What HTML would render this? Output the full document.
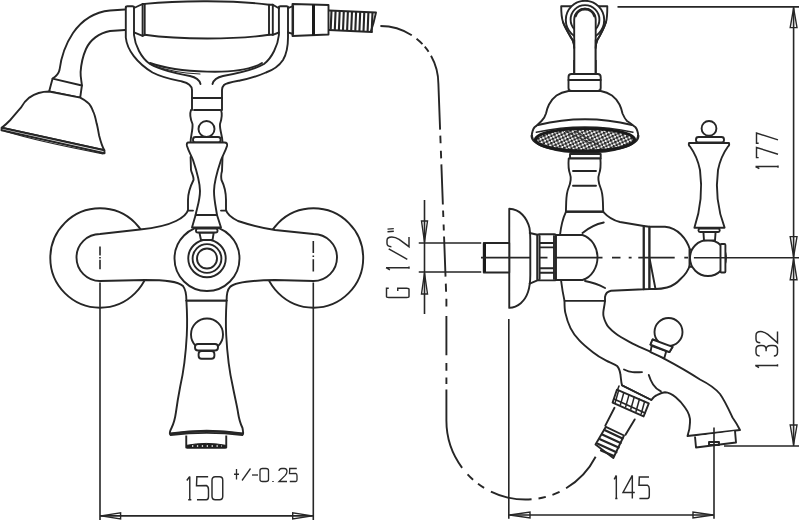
<!DOCTYPE html>
<html><head><meta charset="utf-8"><style>
html,body{margin:0;padding:0;background:#fff;width:800px;height:522px;overflow:hidden}
svg{display:block}
.s{fill:none;stroke:#262626;stroke-width:1.9;stroke-linecap:round;stroke-linejoin:round}
.w{fill:#fff;stroke:#262626;stroke-width:1.9;stroke-linejoin:round}
.f{fill:#fff;stroke:none}
.d{fill:none;stroke:#262626;stroke-width:1.6;stroke-linecap:butt}
.ah{fill:none;stroke:#262626;stroke-width:1.4;stroke-linejoin:miter}
.txt{font-family:"Liberation Sans",sans-serif;fill:#2e2e2e}
</style></head><body>
<svg width="800" height="522" viewBox="0 0 800 522">
<defs>
<pattern id="dots" width="4.6" height="4.6" patternUnits="userSpaceOnUse" patternTransform="rotate(20)">
<rect width="4.6" height="4.6" fill="#f4f4f4"/>
<rect x="0" y="0" width="2.5" height="2.5" fill="#222"/>
<rect x="2.3" y="2.3" width="2.3" height="2.3" fill="#222"/>
</pattern>
</defs>
<g>
<!-- hand shower arm -->
<path class="s" d="M125,9.5 L110,10.5 C95,12 82,20 73,33 C65,45 61,58 59.5,70 C58.5,74 56,76.5 52.6,78.6"/>
<path class="s" d="M125,30 L110,31 C99,33 90,40 86,49 C82,58 81,66 80.6,72 C80.4,77 81.5,81 81.9,85.5"/>
<path class="w" d="M52.6,78.6 L81.9,85.5 L80.2,97.6 L49.1,91.5 Z"/>
<path class="w" d="M49.1,91.5 C43,91.5 36,93 29.3,97.6 C25,101 23,104 20.7,107.9 C17,112 13,117 10.3,120 C7,123.5 4,126 1.7,127.8 L104.3,150.2 C102.5,147 101,143 99.1,135.5 C98,130 97.5,126 96.6,123.4 C95.5,118 94.5,114 93.1,111.4 C91.5,107 90,104.5 87.9,102.8 C85.5,100.5 83,99 80.2,97.6 Z"/>
<path class="w" d="M1.7,127.8 L104.3,150.2 L104.6,153.2 L1.5,130.3 Z"/>
<path class="s" style="stroke-width:1.3" d="M6,131.5 C30,139 70,147.5 103,153.8"/>
<!-- yoke -->
<path class="s" d="M125.8,7 L125.8,37.5 C127,50 137,63 152.5,72.5 C163,78 175,80 182,81.5 C188,83 192,85 192,90 L192,110"/>
<path class="s" d="M134,7 L134,35 C135,45 141,58 150,64 C160,70 175,73 190,76 C197,77.5 199.5,80 200.5,84"/>
<path class="s" d="M125.8,7.5 Q125.8,6.3 127.3,6.3 L132.5,6.3 Q134,6.3 134,7.5"/>
<path class="s" d="M288,7 L288,37.5 C288,48 286,55 283,60 C279,66 273,70 266,72.5 C258,76 248,79 240,80.5 C232,82 226,83 224,85 C222.5,86.5 222,88 222,90 L222,110"/>
<path class="s" d="M278.9,7 L278.9,35 C278,45 272,58 264,64 C254,70 239,73 223,76 C216,77.5 213.5,80 212.5,84"/>
<path class="s" d="M278.9,7.5 Q278.9,6.3 280.4,6.3 L286.5,6.3 Q288,6.3 288,7.5"/>
<!-- grip -->
<path class="s" d="M134,8 L142.6,4 L142.6,35.8 L134,32.3"/>
<path class="s" d="M144.7,3.9 L144.7,34.8"/>
<path class="s" d="M144.7,3.9 C180,0.3 235,0.3 269,4.7"/>
<path class="s" d="M144.7,34.8 C180,39.8 235,39.8 269,34.8"/>
<path class="s" d="M278.9,8.2 L272.8,4.7 L272.8,34.8 L278.9,32.5"/>
<path class="s" d="M269,4.7 L269,34.8 M269,4.7 L272.8,4.7 M269,34.8 L272.8,34.8 M142.6,4 L144.7,3.9 M142.6,35.8 L144.7,34.8"/>
<path class="s" d="M150,63 C175,72 240,77 262,63"/>
<path class="s" style="stroke-width:1.1" d="M152,65 C165,70 180,73 200,74"/>
<!-- hose connector -->
<path class="s" d="M288,8.2 L293.1,6 L293.1,34 L288,32.3"/>
<path class="s" d="M292.5,4 L328.5,5 L328.5,34.5 L292.5,36 Z"/>
<path style="fill:none;stroke:#1a1a1a;stroke-width:3" d="M313.5,4.5 L313.5,35.5"/>
<!-- corrugated hose -->
<path class="s" d="M329,10.5 L376,12.5 M329,30 L372,32 M376,12.5 L373.5,23 L371,31"/>
<path class="s" style="stroke-width:2.1;stroke-linecap:butt" d="M331.5,10.6 L330.7,29.6 M335.6,10.8 L334.8,29.9 M339.7,11.0 L338.9,30.1 M343.8,11.1 L343.0,30.3 M347.9,11.3 L347.1,30.5 M352.0,11.5 L351.2,30.7 M356.1,11.7 L355.3,30.9 M360.2,11.8 L359.4,31.2 M364.3,12.0 L363.5,31.4 M368.4,12.2 L367.6,31.6 M372.5,12.4 L371.7,31.8"/>
<!-- stem upper -->
<path class="s" d="M192,98 L222,98"/>
<path class="s" d="M194,110 L220,110"/>
<path class="s" d="M191,110 C189.5,114 190,118 192.5,124 C193,130 190.6,136 190.6,142"/>
<path class="s" d="M221,110 C222.5,114 222,118 220,124 C219.5,130 222.5,136 222.5,142"/>
<circle class="s" cx="206.5" cy="129" r="8"/>
<rect class="w" x="193" y="137" width="27.6" height="5.5" rx="2.5"/>
</g>
<g>
<!-- escutcheons -->
<circle class="w" cx="100" cy="258" r="49.7"/>
<circle class="w" cx="313.5" cy="258" r="49.7"/>
<!-- arm fill -->
<path class="f" d="M188,150 L188,210 C187,214 184,217 176,221 C166,226 150,228.5 140,229.5 L100,234 A23.5,23.5 0 0 0 100,281 L145,280 C165,280 178,281 183,286 C186,290 186.4,295 186.4,300.6 L226.6,300.6 C226.6,295 227,290 230,287 C234,283 245,280.5 275,280 L313.5,281 A23.5,23.5 0 0 0 313.5,234 L275,230 C262,228 250,225 238,221 C230,217 227,214 226,210 L226,150 Z"/>
<!-- arm outline -->
<path class="s" d="M190.6,157 L191,170 C192,174 194,177 193.5,180 C191,185 188,192 188,200 L188,210 C187,214 184,217 176,221 C166,226 150,228.5 140,229.5 L100,234 A23.5,23.5 0 0 0 100,281 L145,280 C165,280 178,281 183,286 C186,290 186.4,295 186.4,300.6"/>
<path class="s" d="M222.5,157 L222,171 C221,174 221,177 221.5,180 C224,185 226,192 226,200 L226,210 C227,214 230,217 238,221 C250,225 262,228 275,230 L313.5,234 A23.5,23.5 0 0 1 313.5,281 L275,280 C245,280.5 234,283 230,287 C227,290 226.6,295 226.6,300.6"/>
<path class="s" d="M188,210.6 L193,210.6 M221,210.6 L226,210.6"/>
<circle class="w" cx="207" cy="258.5" r="32.5"/>
<circle class="s" cx="207" cy="258.5" r="18.75"/>
<circle class="s" cx="207" cy="258.5" r="14.4"/>
<circle class="s" cx="207" cy="258.5" r="10"/>
<path class="w" d="M199.4,232.5 L213.75,232.5 L212.5,240 L201,240 Z"/>
<rect class="w" x="196" y="228.5" width="21.5" height="4" rx="1.8"/>
<!-- handle -->
<path class="w" d="M188.5,142.5 L224.5,142.5 Q227.8,142.5 227,146 C225.5,151 223,155 221,160 C217,172 214,182 214,191 C214,200 216,208 217,215 L221,227.5 L192,227.5 L195.6,215 C197,208 200,200 200,191 C200,182 197,172 193,160 C191,155 188.5,151 187,146 Q186.2,142.5 188.5,142.5 Z"/>
<path class="s" d="M195.6,215 L217,215"/>
<!-- centre marks & extension lines -->
<path class="d" d="M100,246.5 L100,255.5 M100,256.9 L100,258.4 M100,259.8 L100,269.3 M100,282.5 L100,520"/>
<path class="d" d="M313.3,241 L313.3,253 M313.3,255.5 L313.3,257 M313.3,259.3 L313.3,271.6 M313.3,282.5 L313.3,520"/>
<!-- spout -->
<path class="w" d="M186.4,300.6 C187.3,315 187.3,325 186.8,335 C186,350 184,370 180.25,386.25 C178,398 176.5,408 175.9,412.5 C175,419 173.5,424 171.5,428 C170,431 169.5,433 170,434 Q207,428.5 243,434 C243.5,433 243,431 242.5,428 C240.5,424 239,419 238,412.5 C237.5,408 235,398 232.75,386.25 C229,370 227,350 226.2,335 C225.7,325 225.7,315 226.6,300.6 Z"/>
<path class="s" d="M186.4,300.6 L226.6,300.6"/>
<path class="s" style="stroke-width:1.7" d="M170.5,433.3 Q207,427.8 242.5,433.3 M170.5,435.2 Q207,430.5 242.5,435.2"/>
<path class="w" d="M186.25,435.5 L186.25,447.5 L226.25,447.5 L226.25,435.5"/>
<path style="fill:#1e1e1e;stroke:#1e1e1e;stroke-width:1" d="M186.8,445.3 Q206.25,441.5 225.7,445.3 L225.7,448 L186.8,448 Z"/>
<path style="fill:none;stroke:#fff;stroke-width:1.3;stroke-dasharray:1.3 3.6" d="M192,446 L222,446"/>
<circle class="w" cx="207" cy="334.5" r="16"/>
<rect class="w" x="195" y="344" width="23" height="6.5" rx="3"/>
<rect class="w" x="198.6" y="351" width="15.8" height="7.75" rx="3"/>
<!-- dimension 150 -->
<path class="d" d="M100,515.9 L313.3,515.9"/>
<path class="ah" d="M101,515.9 L120.6,512.9 L120.6,518.9 Z M312.3,515.9 L292.7,512.9 L292.7,518.9 Z"/>
</g>
<g>
<!-- top bracket + arm -->
<path class="w" d="M561.2,6.2 L607.3,6.2 C607.3,13 607,19 606,22 C604,28 601,34 597.2,40.3 C596,43 595.7,45 595.7,48 L574.2,48 C574.2,45 574,43 572.7,40.3 C569,34 565,28 563,22 C562,19 561.2,13 561.2,6.2 Z"/>
<circle class="w" cx="585" cy="20" r="19.2"/>
<circle class="s" cx="585" cy="19.5" r="14.4"/>
<path class="w" d="M574.2,74 L574.2,19.4 A10.75,10.75 0 0 1 595.7,19.4 L595.7,74 Z"/>
<path class="s" style="stroke-width:2.6" d="M575.5,16 A10,10 0 0 1 594.5,16"/>
<path class="w" d="M561.2,35 C566,40 572,44 574.2,48 L574.2,60 L561.2,60 Z" style="stroke:none"/>
<path class="s" d="M563,22 C565,28 569,34 572.7,40.3 C574,43 574.2,45 574.2,48"/>
<path class="w" d="M607.3,35 C603,40 597,44 595.7,48 L595.7,60 L607.3,60 Z" style="stroke:none"/>
<path class="s" d="M606,22 C604,28 601,34 597.2,40.3 C596,43 595.7,45 595.7,48"/>
<path class="s" d="M574.2,40 L574.2,74 M595.7,40 L595.7,74"/>
<rect class="w" x="568.5" y="74" width="32.2" height="17" rx="3"/>
<path class="s" d="M568.5,80 L600.7,80"/>
<path class="w" d="M568.5,91 C563,92 559.5,93.5 556.5,95.5 C553,98 551,101 549,104.5 C547.5,107.5 546.5,111 546,113.5 C545,117 543.5,119 541.5,121 C539,123.5 537,125.5 534.75,127 C533,129 532,132 531.75,136 L638.25,136 C638,132 637,129 635.25,127 C633,125.5 631,123.5 627,121 C625,119 624,117 622.5,113.5 C622,111 621,107.5 619.5,104.5 C617.5,101 615.5,98 612,95.5 C609,93.5 605.5,92 600.7,91 Z"/>
<path class="f" d="M533,134 L637,134 L637,140 L533,140 Z"/>
<path class="s" style="stroke-width:2.3" d="M531.75,136 A53.25,16.5 0 0 0 638.25,136"/>
<path class="s" style="stroke-width:2.2" d="M538,125 Q585,113.5 632,125"/>
<path class="s" style="stroke-width:1.4" d="M536.25,132.2 Q585,121.8 633,132.2"/>
<ellipse cx="585" cy="139.75" rx="49.5" ry="11.25" style="fill:url(#dots);stroke:#1a1a1a;stroke-width:3.2"/>
<path style="fill:none;stroke:#333;stroke-width:1.2" d="M565,131 L590,143 M575,131 L600,146"/>
<!-- stem -->
<rect class="w" x="570" y="154" width="30.7" height="4.5"/>
<path class="w" d="M568.7,158.5 C568.2,165 568.5,170 570,174 C571.5,178 571,182 568.5,188 C566.8,192 566.4,197 566.2,202 L565.9,211.8 L603.2,211.8 L602.9,202 C602.7,197 602.3,192 600.6,188 C598.1,182 597.6,178 599.1,174 C600.6,170 600.9,165 600.4,158.5 Z"/>
<path class="s" d="M573,171 L596,171 M573,185.7 L596,185.7"/>
<!-- body -->
<path class="w" d="M565.9,211.8 C563,218 561,226 560,235 L537.5,235 L537.5,280 L561,280 C562,288 563,294 564.5,300.9 L605,300.9 L605,297 C605.5,293.5 607.5,291.5 611,290.8 L643.75,289.3 L643.75,226 L620,222 C612,220 607,216 603.2,211.8 Z"/>
<path class="s" d="M565.9,211.8 L603.2,211.8"/>
<path class="s" d="M582.5,233 Q592,225 603.75,222.5 M585,281 Q596,283 605,288"/>
<path class="w" d="M649.4,226.8 L665,226.8 C672,227.5 677,230.5 681,234.5 C685,238.5 688,243 690,249.8 L690,265 C688,271 685,275 681,278.5 C677,283 673,286 667,287.5 C663,288.5 659,289 655.5,289 L649.4,289 Z"/>
<path class="s" d="M643.7,226 L649.4,226.8 L649.4,289 L643.7,289.3 L643.7,226 M649.4,257.5 L655.5,289"/>
<!-- escutcheon side -->
<path class="w" d="M509.25,208.8 C520,209 527,218 529.5,228 C530.3,233 530.3,236 530.3,240 L530.3,275 C530.3,280 530,286 528,292 C525,301 518,307.5 509.25,307.9 Z"/>
<path class="s" d="M529.7,233 L537.4,234.8 M529.7,283.7 L537.4,280.4"/>
<rect class="w" x="483.75" y="243" width="25.5" height="29.5"/>
<path style="stroke:#1a1a1a;stroke-width:3" d="M484.5,243 L484.5,272"/>
<rect class="w" x="537.4" y="234.2" width="18.8" height="46.2" rx="2"/>
<path class="s" d="M539.6,243 L554,243 M539.6,247.4 L554,247.4 M539.6,268.3 L554,268.3 M539.6,272.7 L554,272.7 M539.6,236 L539.6,279 M554,236 L554,279"/>
<path class="w" d="M556,235 L582.5,235 C592,238 597.5,248 597.5,257.5 C597.5,267 592,277 582.5,280 L556,280 Z"/>
<!-- right handle -->
<rect class="w" x="689.5" y="249.7" width="3.3" height="17.1"/>
<circle class="w" cx="708" cy="258" r="18"/>
<rect class="w" x="720.5" y="244" width="4.9" height="28.5" rx="1"/>
<path class="w" d="M703.4,231.8 L715.6,231.8 L715,240.5 L704,240.5 Z"/>
<rect class="w" x="698.5" y="228.5" width="21.2" height="3.5" rx="1.5"/>
<path class="w" d="M689,143 L729,143 C729.5,145 729,146 728,146.5 C724,152 720,160 718,170 C716,185 716,205 724.6,227.7 L694.4,227.7 C702,205 702,185 700,170 C698,160 694,152 690,146.5 C689,146 688.5,145 689,143 Z"/>
<rect class="w" x="696" y="137" width="28" height="5.5" rx="2.5"/>
<circle class="w" cx="709" cy="128.4" r="7.4"/>
<!-- spout -->
<path class="w" d="M564.5,300.9 C564.5,306 564.5,309 565.3,312.6 C566.5,318 568,323 570.5,328.1 C573,333 576,337 579.1,340.2 C583,344.5 588,348.5 592.9,352.2 C597,355.5 602,358.5 606.7,360.9 C610,362.5 614,364 617.1,366 C619,368 620,371 620.5,375 C621,378 621,382 622,385.3 L651.4,400 C653,397.5 655,395.5 657.4,394.8 C660,393.5 662,392.5 665,392.2 C672,392.5 680,400 685,407.5 C689,413 690.5,418 690,422.5 C690,428 688.5,433 687.5,436 L740,430 C738,426 735,421 732.5,417.5 C729,410 725,401 720,394 C714,387 707,383 700,379.5 C690,373 678,366 665,359.1 C660,356 655,353.5 649.8,351.4 C644,348.5 638,346.5 632.6,343.6 C626,340 620,337 615.3,333.3 C611,330 607.5,327 605.9,322.9 C604,319 603,316 603.3,312.6 C603.5,309 604.5,306 605,300.9 Z"/>

<path class="s" d="M624,369.5 C627,371 630,372 632.6,372.1 C636,372.5 639,372.3 642,372.1"/>
<path class="s" d="M648.8,375 C650,379 651.5,382 653.1,384.5 C655,387.5 658,390 660.9,391.4"/>
<path class="w" d="M695,436.5 L696,447.5 L736,442.5 L735,431"/>
<rect class="s" x="709" y="442" width="10" height="3"/>
<!-- knob -->
<path class="w" d="M651.6,345.8 L650.5,352.1 L664.2,358.4 L666.3,351 Z"/>
<path class="w" d="M652.6,339.5 L672.6,346.8 L669.5,352.1 L650.5,344.7 Z"/>
<circle class="w" cx="668.5" cy="332" r="14"/>
<path class="w" d="M652.6,339.5 L672.6,346.8 L669.5,352.1 L650.5,344.7 Z"/>
<!-- threaded outlet -->
<path class="f" d="M614.3,404 L606,428 L631.6,432 L638,412 Z"/>
<path class="s" d="M614.5,407.8 L605.3,425.6 M634.7,419.4 L625.5,434.8"/>
<path class="w" d="M605.9,426.8 L624,435.5 L613.3,458 L595.5,444.6 Z"/>
<path class="s" style="stroke-width:2.2" d="M604.5,430 L622.5,438.5 M602.2,434.6 L620.6,443 M600,439.2 L618.6,447.6 M597.8,443.8 L616.4,452.2 M601,450.5 L614,456"/>
<path class="w" d="M616.9,389.7 L648.8,403.4 L643.6,416.4 L612.6,402.6 Z"/>
<path class="s" style="stroke-width:1.6" d="M622,385.3 L651.4,400 M619,386 L617.5,390 M614,399 L645,413"/>
<path class="s" style="stroke-width:1.5" d="M618.6,390.5 L615.2,402.6 M623.8,392.7 L620.4,404.9 M629,394.9 L625.6,407.1 M634.2,397.1 L630.8,409.3 M639.4,399.3 L636,411.5 M644.6,401.5 L641.2,413.7"/>
</g>
<g>
<!-- dashed hose -->
<path style="fill:none;stroke:#262626;stroke-width:1.9;stroke-dasharray:33.1 5.9 8.0 3.4 6.4 4.6 75.2 6.0 7.6 7.6 7.6 6.0 40.1 6.0 6.5 7.6 6.0 6.0 40.1 7.0 8.1 7.0 7.7 9.6 39.2 7.8 7.8 6.6 6.6 5.4 81.8 8.5 7.7 6.3 7.4 7.7 41.9 7.0 7.4 7.0 7.7 7.4 43.7 200" d="M380.4,26 A58,58 0 0 1 438.4,84 L446.4,300 L446.4,420 A79,79 0 0 0 596,456"/>
<!-- G 1/2 dims -->
<path class="d" d="M418.75,243 L481.25,243 M418.75,272 L481.25,272 M424.5,200 L424.5,314"/>
<path class="ah" d="M424.5,242 L421.5,221 L427.5,221 Z M424.5,273 L421.5,294 L427.5,294 Z"/>
<!-- centre line right view -->
<path class="d" d="M481,257.6 L530,257.6 M540,257.6 L547.5,257.6 M556.5,257.6 L602.5,257.6 M612,257.6 L620.5,257.6 M628.7,257.6 L631.6,257.6 M638.3,257.6 L674.7,257.6 M684.3,257.6 L688.1,257.6 M693.9,257.7 L725.4,257.8"/>
<path class="d" d="M725.4,257.8 L799,257.8 M617.5,6.9 L799,6.9 M724,446 L799,446 M793.6,6.9 L793.6,446"/>
<path class="ah" d="M793.6,8 L790.2,27.6 L797,27.6 Z M793.6,256.8 L790.2,236.6 L797,236.6 Z M793.6,258.8 L790.2,279.8 L797,279.8 Z M793.6,444.5 L790.2,425 L797,425 Z"/>
<!-- 145 dims -->
<path class="d" d="M508.8,319 L508.8,518.75 M714,427.5 L714,518.75 M508.8,515 L714,515"/>
<path class="ah" d="M509.8,515 L530,512 L530,518 Z M713,515 L693,512 L693,518 Z"/>
</g>
<path d="M0.85,0 L0,0.17 M0.85,0 L0.85,1 M0.4,1 L1.3,1" transform="translate(186.8,476.5) scale(3.5,23.3)" style="fill:none;stroke:#2a2a2a;stroke-width:1.45;stroke-linecap:butt;stroke-linejoin:miter" vector-effect="non-scaling-stroke"/>
<path d="M0.97,0 L0.03,0 L0,0.39 L0.82,0.38 Q1,0.42 1,0.56 L1,0.86 Q1,1 0.82,1 L0.04,1" transform="translate(196.5,476.8) scale(12,23)" style="fill:none;stroke:#2a2a2a;stroke-width:1.45;stroke-linecap:butt;stroke-linejoin:miter" vector-effect="non-scaling-stroke"/>
<path d="M0.3,0 L0.7,0 Q1,0 1,0.15 L1,0.85 Q1,1 0.7,1 L0.3,1 Q0,1 0,0.85 L0,0.15 Q0,0 0.3,0 Z" transform="translate(212,476.8) scale(10.75,23)" style="fill:none;stroke:#2a2a2a;stroke-width:1.45;stroke-linecap:butt;stroke-linejoin:miter" vector-effect="non-scaling-stroke"/>
<path d="M0.5,0 L0.5,1 M0,0.5 L1,0.5" transform="translate(234,469) scale(5,10.5)" style="fill:none;stroke:#2a2a2a;stroke-width:1.3;stroke-linecap:butt;stroke-linejoin:miter" vector-effect="non-scaling-stroke"/>
<path d="M0,1 L1,0" transform="translate(242,468.5) scale(8.5,12)" style="fill:none;stroke:#2a2a2a;stroke-width:1.3;stroke-linecap:butt;stroke-linejoin:miter" vector-effect="non-scaling-stroke"/>
<path d="M0,0.5 L1,0.5" transform="translate(252,475) scale(6,0.01)" style="fill:none;stroke:#2a2a2a;stroke-width:1.3;stroke-linecap:butt;stroke-linejoin:miter" vector-effect="non-scaling-stroke"/>
<path d="M0.3,0 L0.7,0 Q1,0 1,0.15 L1,0.85 Q1,1 0.7,1 L0.3,1 Q0,1 0,0.85 L0,0.15 Q0,0 0.3,0 Z" transform="translate(260,468.5) scale(8.5,13)" style="fill:none;stroke:#2a2a2a;stroke-width:1.3;stroke-linecap:butt;stroke-linejoin:miter" vector-effect="non-scaling-stroke"/>
<path d="M0.5,0.7 L0.5,1" transform="translate(272.5,479) scale(1,3)" style="fill:none;stroke:#2a2a2a;stroke-width:1.5;stroke-linecap:butt;stroke-linejoin:miter" vector-effect="non-scaling-stroke"/>
<path d="M0,0.2 Q0,0 0.35,0 L0.65,0 Q1,0 1,0.22 Q1,0.38 0.75,0.55 L0,1 L1,1" transform="translate(279,468.5) scale(8,13)" style="fill:none;stroke:#2a2a2a;stroke-width:1.3;stroke-linecap:butt;stroke-linejoin:miter" vector-effect="non-scaling-stroke"/>
<path d="M0.97,0 L0.03,0 L0,0.39 L0.82,0.38 Q1,0.42 1,0.56 L1,0.86 Q1,1 0.82,1 L0.04,1" transform="translate(289.5,468.5) scale(7.5,13)" style="fill:none;stroke:#2a2a2a;stroke-width:1.3;stroke-linecap:butt;stroke-linejoin:miter" vector-effect="non-scaling-stroke"/>
<path d="M0.85,0 L0,0.17 M0.85,0 L0.85,1 M0.4,1 L1.3,1" transform="translate(614.2,475.4) scale(2.5,23.1)" style="fill:none;stroke:#2a2a2a;stroke-width:1.45;stroke-linecap:butt;stroke-linejoin:miter" vector-effect="non-scaling-stroke"/>
<path d="M0.79,1 L0.79,0 L0,0.74 L1,0.74" transform="translate(623,475.4) scale(11.8,23.1)" style="fill:none;stroke:#2a2a2a;stroke-width:1.45;stroke-linecap:butt;stroke-linejoin:miter" vector-effect="non-scaling-stroke"/>
<path d="M0.97,0 L0.03,0 L0,0.39 L0.82,0.38 Q1,0.42 1,0.56 L1,0.86 Q1,1 0.82,1 L0.04,1" transform="translate(639,476.9) scale(10.3,21.6)" style="fill:none;stroke:#2a2a2a;stroke-width:1.45;stroke-linecap:butt;stroke-linejoin:miter" vector-effect="non-scaling-stroke"/>
<g transform="translate(778,168) rotate(-90)">
<path d="M0.85,0 L0,0.17 M0.85,0 L0.85,1 M0.4,1 L1.3,1" transform="translate(-0.7,-22.5) scale(2.5,22.5)" style="fill:none;stroke:#2a2a2a;stroke-width:1.45;stroke-linecap:butt;stroke-linejoin:miter" vector-effect="non-scaling-stroke"/>
<path d="M0,0.1 L0,0 L1,0 L0.33,1" transform="translate(10.4,-21.5) scale(10.1,21.5)" style="fill:none;stroke:#2a2a2a;stroke-width:1.45;stroke-linecap:butt;stroke-linejoin:miter" vector-effect="non-scaling-stroke"/>
<path d="M0,0.1 L0,0 L1,0 L0.33,1" transform="translate(24.8,-21.5) scale(10.1,21.5)" style="fill:none;stroke:#2a2a2a;stroke-width:1.45;stroke-linecap:butt;stroke-linejoin:miter" vector-effect="non-scaling-stroke"/>
</g>
<g transform="translate(777.5,367) rotate(-90)">
<path d="M0.85,0 L0,0.17 M0.85,0 L0.85,1 M0.4,1 L1.3,1" transform="translate(-0.6,-22.3) scale(2.5,22.3)" style="fill:none;stroke:#2a2a2a;stroke-width:1.45;stroke-linecap:butt;stroke-linejoin:miter" vector-effect="non-scaling-stroke"/>
<path d="M0,0.17 Q0.02,0 0.35,0 L0.65,0 Q1,0 1,0.22 L1,0.27 Q1,0.47 0.62,0.47 L0.45,0.47 M0.62,0.47 Q1,0.47 1,0.7 L1,0.8 Q1,1 0.65,1 L0.35,1 Q0,1 0,0.83" transform="translate(11,-21.5) scale(10.6,21.5)" style="fill:none;stroke:#2a2a2a;stroke-width:1.45;stroke-linecap:butt;stroke-linejoin:miter" vector-effect="non-scaling-stroke"/>
<path d="M0,0.2 Q0,0 0.35,0 L0.65,0 Q1,0 1,0.22 Q1,0.38 0.75,0.55 L0,1 L1,1" transform="translate(24.2,-21.5) scale(11.2,21.5)" style="fill:none;stroke:#2a2a2a;stroke-width:1.45;stroke-linecap:butt;stroke-linejoin:miter" vector-effect="non-scaling-stroke"/>
</g>
<g transform="translate(409,298) rotate(-90)">
<path d="M1,0.1 L1,0 L0.1,0 Q0,0 0,0.1 L0,0.9 Q0,1 0.1,1 L0.9,1 Q1,1 1,0.9 L1,0.5 L0.7,0.5" transform="translate(0.5,-22.5) scale(9.2,22.5)" style="fill:none;stroke:#2a2a2a;stroke-width:1.45;stroke-linecap:butt;stroke-linejoin:miter" vector-effect="non-scaling-stroke"/>
<path d="M0.85,0 L0,0.17 M0.85,0 L0.85,1 M0.4,1 L1.3,1" transform="translate(28.2,-23) scale(2.5,23)" style="fill:none;stroke:#2a2a2a;stroke-width:1.45;stroke-linecap:butt;stroke-linejoin:miter" vector-effect="non-scaling-stroke"/>
<path d="M0,1 L1,0" transform="translate(38.7,-20.3) scale(10.5,18.6)" style="fill:none;stroke:#2a2a2a;stroke-width:1.45;stroke-linecap:butt;stroke-linejoin:miter" vector-effect="non-scaling-stroke"/>
<path d="M0,0.2 Q0,0 0.35,0 L0.65,0 Q1,0 1,0.22 Q1,0.38 0.75,0.55 L0,1 L1,1" transform="translate(51.3,-22) scale(9.7,22)" style="fill:none;stroke:#2a2a2a;stroke-width:1.45;stroke-linecap:butt;stroke-linejoin:miter" vector-effect="non-scaling-stroke"/>
<path d="M66.3,-21.5 L66.8,-15.2 M68.9,-21.5 L69.4,-15.2" style="fill:none;stroke:#2a2a2a;stroke-width:1.45"/>
</g>
</svg>
</body></html>
